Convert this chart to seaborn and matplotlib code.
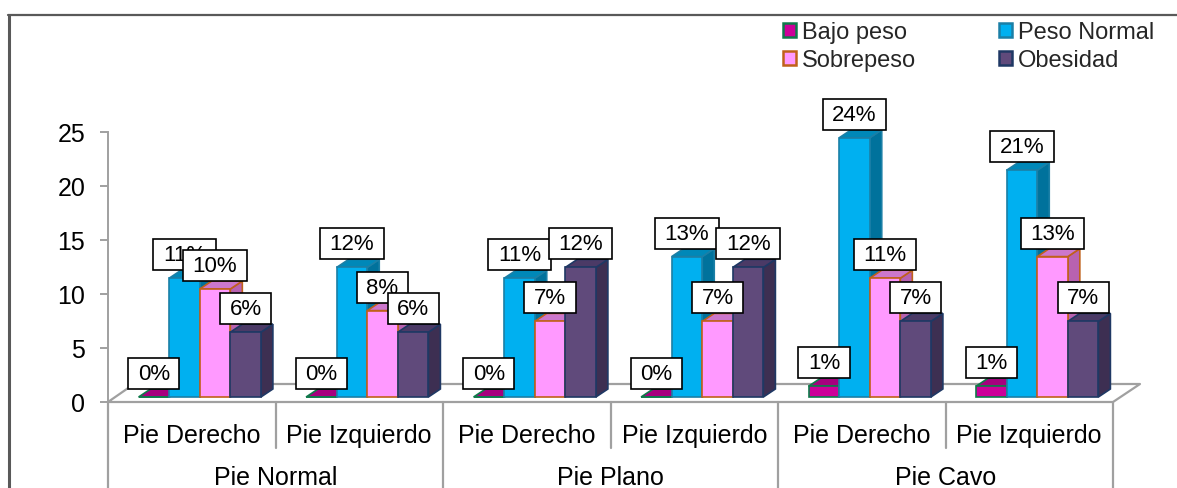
import numpy as np
import pandas as pd
import seaborn as sns
import matplotlib.pyplot as plt
from matplotlib.patches import Polygon, Patch
from matplotlib.lines import Line2D
from matplotlib.path import Path
from matplotlib.transforms import ScaledTranslation, blended_transform_factory

# --- data -------------------------------------------------------------
grupos = ["Pie Normal", "Pie Plano", "Pie Cavo"]
lados = ["Pie Derecho", "Pie Izquierdo"]
estados = ["Bajo peso", "Peso Normal", "Sobrepeso", "Obesidad"]
bajo_peso = [0, 0, 0, 0, 1, 1]
peso_normal = [11, 12, 11, 13, 24, 21]
sobrepeso = [10, 8, 7, 7, 11, 13]
obesidad = [6, 6, 12, 12, 7, 7]
y_ticks = [0, 5, 10, 15, 20, 25]

# --- styling ----------------------------------------------------------
frente = {"Bajo peso": "#CC0099", "Peso Normal": "#00B0F0",
          "Sobrepeso": "#FF99FF", "Obesidad": "#604A7B"}
lateral = {"Bajo peso": "#8C006B", "Peso Normal": "#00729C",
           "Sobrepeso": "#B862B0", "Obesidad": "#3D2F52"}
techo = {"Bajo peso": "#A6007E", "Peso Normal": "#0088B8",
         "Sobrepeso": "#CC77CC", "Obesidad": "#4B3A66"}
borde = {"Bajo peso": "#0E7A4A", "Peso Normal": "#1B7FA6",
         "Sobrepeso": "#C0601A", "Obesidad": "#1F3864"}
GRIS = "#A0A0A0"

W, H, DPI = 1177, 489, 100

sns.set_style("white")
plt.rcParams["font.family"] = ["Liberation Sans", "DejaVu Sans"]

categorias = [f"{g} / {l}" for g in grupos for l in lados]
series = dict(zip(estados, [bajo_peso, peso_normal, sobrepeso, obesidad]))
df = pd.DataFrame(
    [{"categoria": c, "estado": e, "valor": series[e][k]}
     for e in estados for k, c in enumerate(categorias)]
)

fig = plt.figure(figsize=(W / DPI, H / DPI), dpi=DPI)


def fx(px):
    return px / W


def fy(py):
    return 1 - py / H


ax = fig.add_axes([fx(108), fy(403), fx(1113) - fx(108), fy(133) - fy(403)])
sns.barplot(data=df, x="categoria", y="valor", hue="estado",
            order=categorias, hue_order=estados, palette=frente,
            width=0.73, gap=0, saturation=1, errorbar=None,
            legend=False, ax=ax)

ax.set_xlim(-0.5, 5.5)
ax.set_ylim(0, 25)
ax.set_autoscale_on(False)

# pixel scale of the axes -> depth of the 3-D faces in data units
px_x = (fx(1113) - fx(108)) * W / 6.0
px_y = (fy(133) - fy(403)) * H / 25.0
dx, dy = 12 / px_x, 8 / px_y
shift = ax.transData + ScaledTranslation(8 / DPI, 5 / DPI, fig.dpi_scale_trans)


def caja(x0, y0, width, height, mutation_size):
    ph, pv = 9.5, 5.0
    verts = [(x0 - ph, y0 - pv), (x0 + width + ph, y0 - pv),
             (x0 + width + ph, y0 + height + pv), (x0 - ph, y0 + height + pv),
             (x0 - ph, y0 - pv)]
    return Path(verts, closed=True)


for i, (estado, cont) in enumerate(zip(estados, ax.containers)):
    z = 3 + i * 0.1
    for bar in cont:
        x0, w, h = bar.get_x(), bar.get_width(), bar.get_height()
        bar.set_transform(shift)
        bar.set_edgecolor(borde[estado])
        bar.set_linewidth(1.2)
        bar.set_zorder(z + 0.05)
        bar.set_clip_on(False)
        side = Polygon([(x0 + w, 0), (x0 + w + dx, dy), (x0 + w + dx, h + dy), (x0 + w, h)],
                       closed=True, transform=shift, fc=lateral[estado],
                       ec=borde[estado], lw=1.2, zorder=z, clip_on=False)
        top = Polygon([(x0, h), (x0 + w, h), (x0 + w + dx, h + dy), (x0 + dx, h + dy)],
                      closed=True, transform=shift, fc=techo[estado],
                      ec=borde[estado], lw=1.2, zorder=z + 0.01, clip_on=False)
        ax.add_patch(side)
        ax.add_patch(top)
        ax.annotate(f"{int(round(h))}%", xy=(x0 + w / 2, h), xycoords=shift,
                    xytext=(0, 13), textcoords="offset pixels",
                    ha="center", va="bottom", fontsize=16, color="black",
                    bbox=dict(boxstyle=caja, fc="white", ec="black", lw=1.2),
                    zorder=10 + i, annotation_clip=False)

# floor of the 3-D plot
piso = [(108, 403), (1113, 403), (1140, 385), (134, 385), (108, 403)]
ax.add_line(Line2D([fx(p[0]) for p in piso], [fy(p[1]) for p in piso],
                   transform=fig.transFigure, color=GRIS, lw=1.6,
                   zorder=1, clip_on=False))

# axes styling
for s in ["top", "right", "bottom"]:
    ax.spines[s].set_visible(False)
ax.spines["left"].set_color(GRIS)
ax.spines["left"].set_linewidth(1.4)
ax.set_yticks(y_ticks)
ax.set_xticks([])
ax.set_xlabel("")
ax.set_ylabel("")
ax.tick_params(axis="y", length=5.8, width=1.4, color=GRIS, pad=10.5,
               labelsize=18, labelcolor="black", left=True)

# two-level category axis
bt = blended_transform_factory(ax.transData, fig.transFigure)
for xs in [0.5, 2.5, 4.5]:
    ax.add_line(Line2D([xs, xs], [fy(403), fy(449)], transform=bt,
                       color=GRIS, lw=1.6, clip_on=False))
for xs in [-0.5, 1.5, 3.5, 5.5]:
    ax.add_line(Line2D([xs, xs], [fy(403), fy(H + 2)], transform=bt,
                       color=GRIS, lw=1.6, clip_on=False))
for k in range(len(categorias)):
    ax.text(k, fy(443), lados[k % 2], transform=bt, ha="center",
            va="baseline", fontsize=18, color="black", clip_on=False)
for g, nombre in enumerate(grupos):
    ax.text(2 * g + 0.5, fy(485), nombre, transform=bt, ha="center",
            va="baseline", fontsize=18, color="black", clip_on=False)

# legend (two columns, filled column-wise)
handles = [Patch(facecolor=frente[e], edgecolor=borde[e], linewidth=1.8, label=e)
           for e in ["Bajo peso", "Sobrepeso", "Peso Normal", "Obesidad"]]
fig.legend(handles=handles, ncol=2, loc="upper left",
           bbox_to_anchor=(fx(783), fy(22)), frameon=False, fontsize=17,
           handlelength=0.55, handleheight=0.55, handletextpad=0.25,
           columnspacing=3.5, labelspacing=0.26, borderpad=0,
           borderaxespad=0)

# outer chart frame
fig.add_artist(Line2D([fx(8.5), fx(8.5)], [fy(16), fy(H + 2)],
                      transform=fig.transFigure, color="#595959", lw=2.2))
fig.add_artist(Line2D([fx(7.5), fx(W + 2)], [fy(16), fy(16)],
                      transform=fig.transFigure, color="#595959", lw=1.6))

fig.savefig("out.png", dpi=DPI)
